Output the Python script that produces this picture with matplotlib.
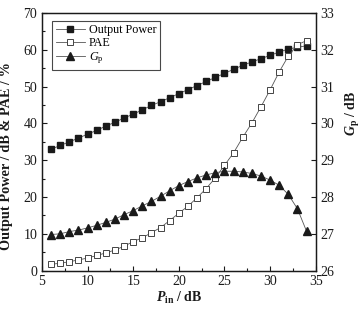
import matplotlib
matplotlib.use("Agg")
import matplotlib.pyplot as plt
from matplotlib.ticker import MultipleLocator

plt.rcParams["font.family"] = ["Liberation Serif", "DejaVu Serif"]
plt.rcParams["mathtext.fontset"] = "custom"
plt.rcParams["mathtext.rm"] = "Liberation Serif"
plt.rcParams["mathtext.it"] = "Liberation Serif:italic"
plt.rcParams["mathtext.bf"] = "Liberation Serif:bold"
plt.rcParams["mathtext.bfit"] = "Liberation Serif:italic:bold"

INK = "#1a1a1a"
LINE = "#555555"

# Input power (dB)
p_in = list(range(6, 35))

# Output power (dB), left axis
p_out = [33.0, 34.0, 35.0, 36.0, 37.1, 38.1, 39.3, 40.3, 41.5, 42.5,
         43.7, 44.9, 45.9, 47.0, 48.1, 49.2, 50.3, 51.4, 52.5, 53.6,
         54.7, 55.8, 56.7, 57.6, 58.5, 59.4, 60.2, 60.7, 61.1]

# PAE (%), left axis
pae = [1.7, 2.0, 2.4, 2.9, 3.4, 4.1, 4.8, 5.6, 6.6, 7.9,
       8.9, 10.3, 11.7, 13.6, 15.6, 17.5, 19.8, 22.3, 25.2, 28.6,
       32.0, 36.2, 40.1, 44.5, 49.1, 54.0, 58.3, 61.4, 62.5]

# Gain Gp (dB), right axis
gain = [26.98, 27.00, 27.06, 27.10, 27.16, 27.23, 27.31, 27.40, 27.52, 27.63,
        27.76, 27.88, 28.02, 28.17, 28.31, 28.42, 28.52, 28.60, 28.66, 28.70,
        28.70, 28.68, 28.64, 28.57, 28.46, 28.32, 28.07, 27.68, 27.07]


fig = plt.figure(figsize=(3.62, 3.11), dpi=100)
ax = fig.add_axes([0.116, 0.130, 0.756, 0.828])
ax2 = ax.twinx()

l1, = ax.plot(p_in, p_out, color=LINE, linewidth=0.6, marker="s", markersize=4.3,
              markerfacecolor=INK, markeredgecolor=INK, label="Output Power")
l2, = ax.plot(p_in, pae, color=LINE, linewidth=0.6, marker="s", markersize=4.3,
              markerfacecolor="white", markeredgecolor="#444444",
              markeredgewidth=0.7, label="PAE")
l3, = ax2.plot(p_in, gain, color=LINE, linewidth=0.6, marker="^", markersize=5.4,
               markerfacecolor=INK, markeredgecolor=INK, label=r"$G_\mathrm{p}$")

ax.set_xlim(5, 35)
ax.set_ylim(0, 70)
ax2.set_ylim(26, 33)

ax.xaxis.set_major_locator(MultipleLocator(5))
ax.xaxis.set_minor_locator(MultipleLocator(2.5))
ax.yaxis.set_major_locator(MultipleLocator(10))
ax.yaxis.set_minor_locator(MultipleLocator(5))
ax2.yaxis.set_major_locator(MultipleLocator(1))

for a in (ax, ax2):
    a.tick_params(which="both", direction="in", colors=INK, labelsize=10,
                  width=0.8, top=False)
    a.tick_params(which="major", length=3.5)
    a.tick_params(which="minor", length=2)
    for s in a.spines.values():
        s.set_linewidth(0.9)
        s.set_color(INK)

ax.set_xlabel(r"$\boldsymbol{P}_\mathbf{in}$ / dB", fontsize=10, fontweight="bold",
              color=INK, labelpad=1)
ax.set_ylabel("Output Power / dB & PAE / %", fontsize=10.3, fontweight="bold", color=INK)
ax.yaxis.set_label_coords(-0.105, 0.445)
ax2.set_ylabel(r"$\boldsymbol{G}_\mathbf{p}$ / dB", fontsize=10, fontweight="bold",
               color=INK)
ax2.yaxis.set_label_coords(1.105, 0.61)

leg = ax.legend(handles=[l1, l2, l3], loc="upper left", bbox_to_anchor=(0.037, 0.97),
                fontsize=8.7, frameon=True, fancybox=False, handlelength=2.4,
                handletextpad=0.35, borderpad=0.3, labelspacing=0.08,
                borderaxespad=0)
leg.get_frame().set_edgecolor(INK)
leg.get_frame().set_linewidth(0.8)

fig.savefig("out.png", dpi=100)
